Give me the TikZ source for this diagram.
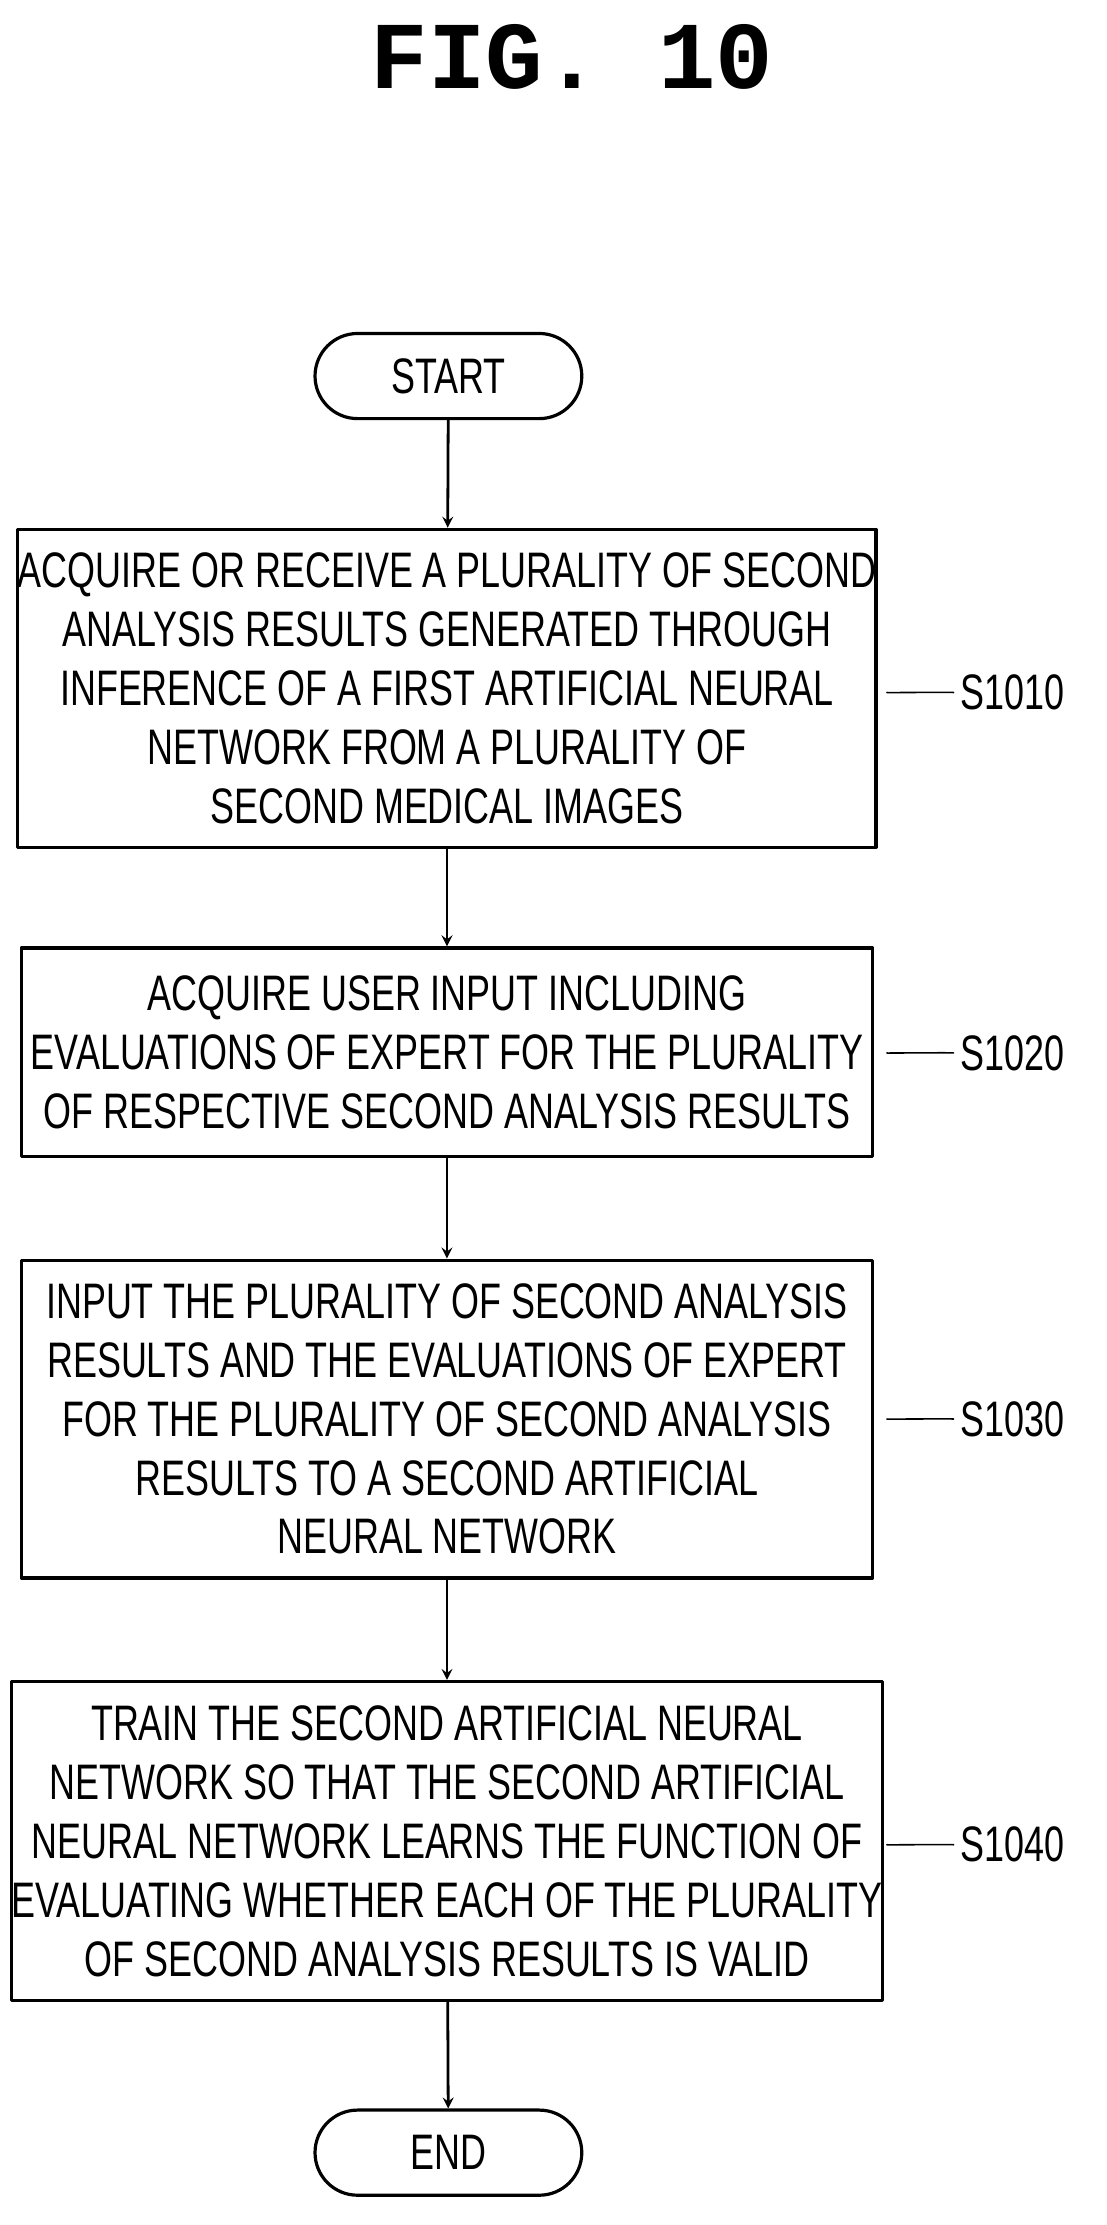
\documentclass[tikz,border=0pt]{standalone}
\usepackage{fontspec}
\setmainfont[FakeStretch=0.72]{Liberation Sans}
\setmonofont{Liberation Mono}
\usetikzlibrary{positioning}
\tikzset{
  stepbox/.style={draw,line width=1.6pt,minimum width=600*0.025cm,align=center,font=\fontsize{25}{29.5}\selectfont,inner sep=0pt},
  termbox/.style={draw,line width=1.6pt,rounded corners=30*0.025cm,minimum width=188*0.025cm,minimum height=60*0.025cm,font=\fontsize{25}{29.5}\selectfont},
  flow/.style={->,line width=1.4pt,>=stealth},
  tag/.style={font=\fontsize{25}{29.5}\selectfont,anchor=west}
}
\newcommand{\squig}[2]{\draw[line width=0.8pt] (#1) .. controls ++(0.4,0.25) and ++(-0.4,0) .. ++(0.6,0.1) .. controls ++(0.4,0) and ++(-0.4,-0.25) .. (#2.west);}
\begin{document}
\begin{tikzpicture}[x=0.025cm,y=-0.025cm,line cap=round,line join=round]
\useasboundingbox (0,0) rectangle (780,1568);
\node (title) at (403,40) {\fontsize{48}{50}\selectfont\ttfamily\bfseries FIG. 10};

\node[termbox] (start) at (316,265) {START};
\node[stepbox,minimum height=224*0.025cm] (s1) at (315,485) {ACQUIRE OR RECEIVE A PLURALITY OF SECOND\\ANALYSIS RESULTS GENERATED THROUGH\\INFERENCE OF A FIRST ARTIFICIAL NEURAL\\NETWORK FROM A PLURALITY OF\\SECOND MEDICAL IMAGES};
\node[stepbox,minimum height=147*0.025cm] (s2) at (315,741.5) {ACQUIRE USER INPUT INCLUDING\\EVALUATIONS OF EXPERT FOR THE PLURALITY\\OF RESPECTIVE SECOND ANALYSIS RESULTS};
\node[stepbox,minimum height=224*0.025cm] (s3) at (315,1000) {INPUT THE PLURALITY OF SECOND ANALYSIS\\RESULTS AND THE EVALUATIONS OF EXPERT\\FOR THE PLURALITY OF SECOND ANALYSIS\\RESULTS TO A SECOND ARTIFICIAL\\NEURAL NETWORK};
\node[stepbox,minimum height=225*0.025cm] (s4) at (315,1297.5) {TRAIN THE SECOND ARTIFICIAL NEURAL\\NETWORK SO THAT THE SECOND ARTIFICIAL\\NEURAL NETWORK LEARNS THE FUNCTION OF\\EVALUATING WHETHER EACH OF THE PLURALITY\\OF SECOND ANALYSIS RESULTS IS VALID};
\node[termbox] (end) at (316,1517) {END};

\node[tag] (t1) at (672,488) {S1010};
\node[tag] (t2) at (672,742) {S1020};
\node[tag] (t3) at (672,1000) {S1030};
\node[tag] (t4) at (672,1300) {S1040};
\coordinate (c1) at (625,488);
\coordinate (c2) at (625,742);
\coordinate (c3) at (625,1000);
\coordinate (c4) at (625,1300);
\squig{c1}{t1}
\squig{c2}{t2}
\squig{c3}{t3}
\squig{c4}{t4}

\draw[flow] (start) -- (s1);
\draw[flow] (s1) -- (s2);
\draw[flow] (s2) -- (s3);
\draw[flow] (s3) -- (s4);
\draw[flow] (s4) -- (end);
\end{tikzpicture}
\end{document}
